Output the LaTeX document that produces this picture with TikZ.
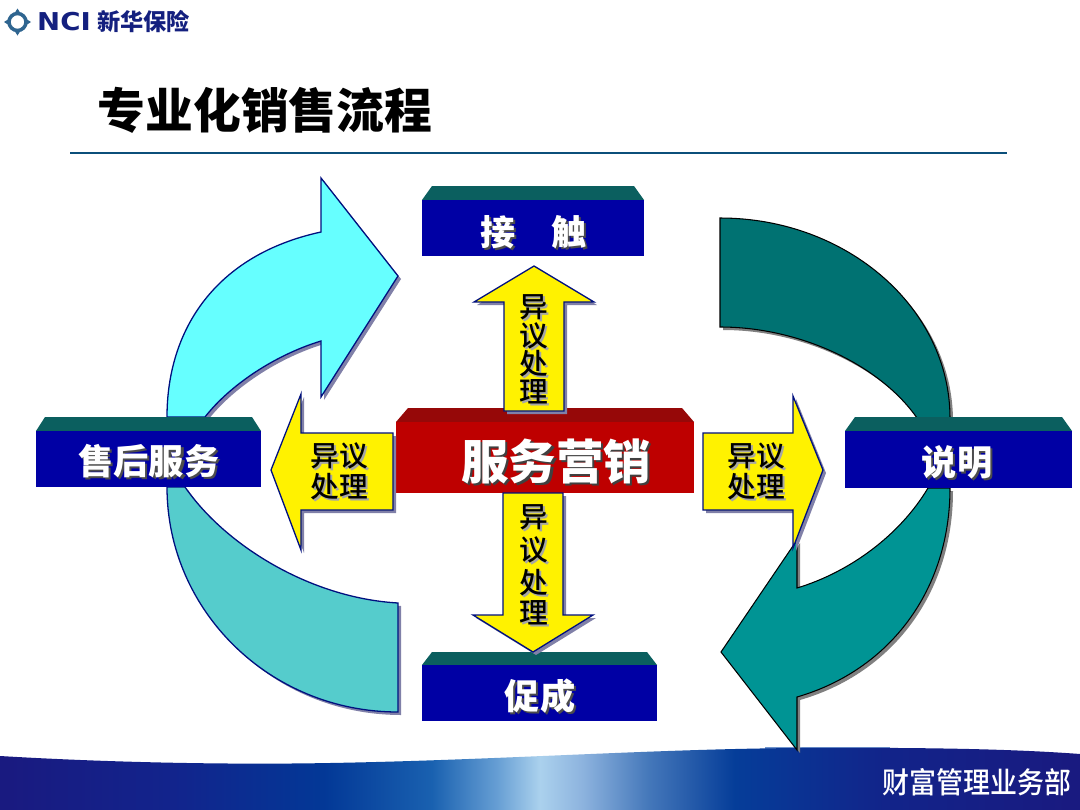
\documentclass[tikz,border=0pt]{standalone}
\usepackage{fontspec}
\setmainfont{Liberation Sans}
\newfontfamily\cjk{Noto Sans CJK SC}
\newfontfamily\cjkm{Noto Sans CJK SC Medium}
\newfontfamily\logofont{DejaVu Sans}
\definecolor{cyanA}{HTML}{66FFFF}
\definecolor{tealL}{HTML}{55CCCC}
\definecolor{tealD}{HTML}{007272}
\definecolor{tealM}{HTML}{009494}
\definecolor{navyL}{HTML}{00107F}
\definecolor{boxB}{HTML}{0000A4}
\definecolor{bevelT}{HTML}{0B5F5F}
\definecolor{redF}{HTML}{BE0000}
\definecolor{redT}{HTML}{960808}
\definecolor{ruleC}{HTML}{0B4F7A}
\definecolor{logoN}{HTML}{14207F}
\definecolor{logoR}{HTML}{2F6590}
\definecolor{shadowB}{HTML}{8080A8}
\definecolor{shadowG}{HTML}{808080}
\definecolor{bandHi}{HTML}{6F93CC}
\pgfdeclarehorizontalshading{footband}{100bp}{
 rgb(0bp)=(0.10,0.10,0.50);
 rgb(25bp)=(0.10,0.10,0.50);
 rgb(33bp)=(0.07,0.14,0.55);
 rgb(40bp)=(0.01,0.22,0.59);
 rgb(45bp)=(0.10,0.38,0.69);
 rgb(48bp)=(0.40,0.62,0.83);
 rgb(50bp)=(0.67,0.82,0.93);
 rgb(52bp)=(0.55,0.70,0.87);
 rgb(55bp)=(0.27,0.47,0.73);
 rgb(59bp)=(0.02,0.24,0.60);
 rgb(66bp)=(0.07,0.14,0.54);
 rgb(75bp)=(0.10,0.10,0.50);
 rgb(100bp)=(0.10,0.10,0.50)}
\tikzset{
 x=0.03cm,y=-0.03cm,
 blueline/.style={draw=navyL,line width=1.1pt,line join=miter},
 blackline/.style={draw=black,line width=0.9pt,line join=miter},
 shB/.style={fill=shadowB,shift={(3,3)}},
 shG/.style={fill=shadowG,shift={(3,3)}},
 boxface/.style={fill=boxB},
 bevel/.style={fill=bevelT},
 boxtxt/.style={font=\cjk\bfseries\fontsize{30pt}{30pt}\selectfont,text=white,inner sep=0pt},
 boxshadow/.style={font=\cjk\bfseries\fontsize{30pt}{30pt}\selectfont,text=black!70,inner sep=0pt},
 yellowtxt/.style={font=\cjkm\fontsize{24.5pt}{24.5pt}\selectfont,text=black,inner sep=0pt},
 yellowshadow/.style={font=\cjkm\fontsize{24.5pt}{24.5pt}\selectfont,text=black!35,inner sep=0pt},
}
\newcommand{\cyanP}{(167,417) .. controls (167,330) and (215,255) .. (321,232) -- (321,178) -- (398,276) -- (321,397) -- (321,341) .. controls (275,355) and (230,385) .. (205,417) -- cycle}
\newcommand{\ltealP}{(167,487) .. controls (167,611) and (270,712) .. (398,712) -- (398,603) .. controls (310,598) and (225,545) .. (185,487) -- cycle}
\newcommand{\dtealP}{(720,218) .. controls (847,218) and (950,308) .. (950,418) -- (917,418) .. controls (880,365) and (800,327) .. (720,327) -- cycle}
\newcommand{\mtealP}{(950,488) .. controls (950,590) and (890,670) .. (797,697) -- (797,750) -- (721,652) -- (797,540) -- (797,588) .. controls (850,572) and (900,535) .. (928,488) -- cycle}
\newcommand{\upP}{(534,266) -- (594,302) -- (564,302) -- (564,411) -- (504,411) -- (504,302) -- (474,302) -- cycle}
\newcommand{\downP}{(533,652) -- (593,615) -- (563,615) -- (563,493) -- (503,493) -- (503,615) -- (473,615) -- cycle}
\newcommand{\leftP}{(271,470) -- (301,394) -- (301,433) -- (393,433) -- (393,510) -- (301,510) -- (301,550) -- cycle}
\newcommand{\rightP}{(823,470) -- (793,396) -- (793,433) -- (703,433) -- (703,510) -- (793,510) -- (793,548) -- cycle}
\begin{document}
\begin{tikzpicture}
\fill[white] (0,0) rectangle (1080,810);
\useasboundingbox (0,0) rectangle (1080,810);
% footer band
\fill[bandHi] (765,746.5) -- (890,746.5) -- (890,750) -- (765,750) -- cycle;
\shade[shading=footband] (0,756) .. controls (100,762) and (220,765) .. (330,763) .. controls (500,760) and (650,749) .. (800,748) .. controls (900,747.5) and (1000,748) .. (1080,754) -- (1080,810) -- (0,810) -- cycle;
\node[font=\cjkm\fontsize{25pt}{25pt}\selectfont,text=white,inner sep=0pt,xscale=0.92,transform shape] (footer) at (977,782) {财富管理业务部};
% logo
\draw[logoR,line width=3pt] (17.5,22) circle (8.5);
\fill[logoR] (17.5,8.5) -- (21,14) -- (14,14) -- cycle (17.5,35.5) -- (21,30) -- (14,30) -- cycle (4,22) -- (9.5,18.5) -- (9.5,25.5) -- cycle (31,22) -- (25.5,18.5) -- (25.5,25.5) -- cycle;
\node[font=\logofont\bfseries\fontsize{21pt}{21pt}\selectfont,text=logoN,inner sep=0pt,xscale=1.12,transform shape] (nci) at (64,22) {NCI};
\node[font=\cjk\bfseries\fontsize{19.8pt}{19.8pt}\selectfont,text=logoN,inner sep=0pt] (logo) at (143.5,22) {新华保险};
% title
\node[font=\cjk\bfseries\fontsize{40.8pt}{41pt}\selectfont,text=black,inner sep=0pt] (title) at (265,110) {专业化销售流程};
\draw[ruleC,line width=1pt] (70,153) coordinate (ruleL) -- (1007,153) coordinate (ruleR);
% big arrows
\fill[shB] \cyanP;
\path[fill=cyanA,blueline] \cyanP;
\fill[shB] \ltealP;
\path[fill=tealL,blueline] \ltealP;
\fill[shG] \dtealP;
\path[fill=tealD,blackline] \dtealP;
\fill[shG] \mtealP;
\path[fill=tealM,blackline] \mtealP;
% boxes
\fill[bevel] (422,200) -- (432,186) -- (634,186) -- (644,200) -- cycle;
\fill[boxface] (422,200) rectangle (644,256);
\node[boxshadow] at (535.5,234) {接　触};
\node[boxtxt] (touch) at (533.5,232) {接　触};
\fill[bevel] (422,665) -- (432,652) -- (647,652) -- (657,665) -- cycle;
\fill[boxface] (422,665) rectangle (657,721);
\node[boxshadow] at (542,698) {促成};
\node[boxtxt] (close) at (540,696) {促成};
\fill[bevel] (36,431) -- (45,417) -- (252,417) -- (261,431) -- cycle;
\fill[boxface] (36,431) rectangle (261,487);
\node[boxshadow] at (151,463) {售后服务};
\node[boxtxt] (after) at (149,461) {售后服务};
\fill[bevel] (845,431) -- (855,417) -- (1062,417) -- (1072,431) -- cycle;
\fill[boxface] (845,431) rectangle (1072,488);
\node[boxshadow] at (959,464) {说明};
\node[boxtxt] (explain) at (957,462) {说明};
% centre box
\fill[redT] (396,422) -- (408,408) -- (682,408) -- (694,422) -- cycle;
\fill[redF] (396,422) rectangle (694,493);
% yellow arrows
\foreach \p in {\upP,\downP,\leftP,\rightP}{
 \fill[shB] \p;
 \path[fill=yellow,blueline] \p;
}
\node[font=\cjk\bfseries\fontsize{40.5pt}{41pt}\selectfont,text=black!75,inner sep=0pt] at (558.5,463) {服务营销};
\node[font=\cjk\bfseries\fontsize{40.5pt}{41pt}\selectfont,text=white,inner sep=0pt] (centre) at (556,461) {服务营销};
% yellow labels
\foreach \c/\xx/\yy in {异/534/307,议/534/336,处/534/364,理/534/392,异/534/517,议/534/550,处/534/583,理/534/613}{
 \node[yellowshadow] at (\xx+2,\yy+2) {\c};
 \node[yellowtxt] at (\xx,\yy) {\c};
}
\foreach \c/\xx/\yy in {异议/339/456,处理/339/487,异议/756/456,处理/756/487}{
 \node[yellowshadow] at (\xx+2,\yy+2) {\c};
 \node[yellowtxt] at (\xx,\yy) {\c};
}
\end{tikzpicture}
\end{document}
